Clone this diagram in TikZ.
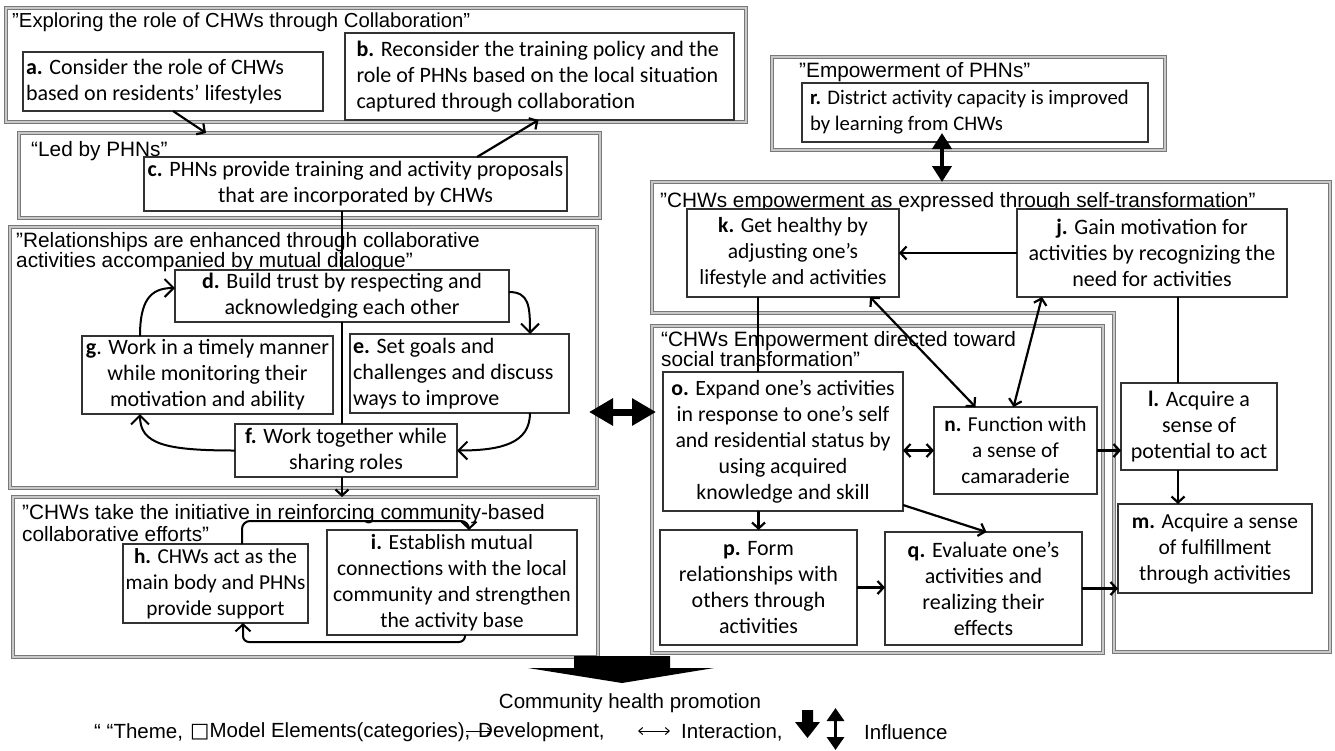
\documentclass[tikz,border=0pt]{standalone}
\usepackage{fontspec}
\setmainfont{Liberation Sans}
\newfontfamily\carlito{Carlito}
\newfontfamily\dejavu{DejaVu Sans}
\usetikzlibrary{arrows.meta,calc}
\definecolor{themegray}{RGB}{120,120,120}
\definecolor{themeinner}{RGB}{200,200,200}
\definecolor{boxgray}{RGB}{50,50,50}
\newcommand\elbox[8][22]{%
  \node[elem, font=\carlito\fontsize{#1}{26}\selectfont, #7, minimum width={(#5-#3)*1pt}, minimum height={(#6-#4)*1pt}] (#2) at ({(#3+#5)/2},{(#4+#6)/2}) {#8};}
\newcommand\thbox[5]{%
  \node[theme, minimum width={(#4-#2)*1pt}, minimum height={(#5-#3)*1pt}] (#1) at ({(#2+#4)/2},{(#3+#5)/2}) {};}
\begin{document}
\begin{tikzpicture}[x=1pt,y=-1pt,
  theme/.style={draw=themegray, double=themeinner, double distance=1.2pt, line width=1pt, inner sep=0pt, outer sep=0pt},
  elem/.style={draw=boxgray, line width=1.1pt, fill=white, inner sep=1pt, outer sep=0pt},
  ttl/.style={anchor=north west, inner sep=0pt, align=left, font=\fontsize{20.8}{18}\selectfont},
  legend/.style={anchor=west, inner sep=0pt, font=\fontsize{20.5}{24}\selectfont},
  plain/.style={line width=2.2pt},
  arr/.style={line width=2.2pt, -{Straight Barb[length=6pt,width=13pt]}},
  darr/.style={line width=2.2pt, {Straight Barb[length=6pt,width=13pt]}-{Straight Barb[length=6pt,width=13pt]}},
  looparr/.style={line width=2pt, -{Straight Barb[length=9pt,width=18pt]}},
  smallloop/.style={line width=2pt, -{Straight Barb[length=7pt,width=15pt]}},
  bigdarr/.style={line width=4.5pt, {Triangle[length=16pt,width=19pt]}-{Triangle[length=16pt,width=19pt]}},
  hugedarr/.style={line width=7pt, {Triangle[length=24pt,width=26pt]}-{Triangle[length=24pt,width=26pt]}}
]
\useasboundingbox (0,0) rectangle (1335,750);
\fill[white] (0,0) rectangle (1335,750);

% ---------- theme boxes ----------
\thbox{T1}{6}{8}{746}{122}
\thbox{T2}{19}{133}{600}{218}
\thbox{T3}{10}{227}{597}{488}
\thbox{T4}{13}{497}{598}{657}
\thbox{T5}{772}{57}{1165}{150}
\draw[theme] (652,182) -- (1330,182) -- (1330,652) -- (1114,652) -- (1114,313) -- (652,313) -- cycle;
\coordinate (T6top) at (942,182);
\thbox{T7}{652}{326}{1103}{653}

% ---------- theme titles ----------
\node[ttl, font=\fontsize{20.3}{18}\selectfont] (t1) at (12,13) {”Exploring the role of CHWs through Collaboration”};
\node[ttl] (t2) at (31,141) {“Led by PHNs”};
\node[ttl, font=\fontsize{20.8}{18.3}\selectfont] (t3) at (16,232) {”Relationships are enhanced through collaborative\\activities accompanied by mutual dialogue”};
\node[ttl, font=\fontsize{20.8}{22.5}\selectfont] (t4) at (22,504) {”CHWs take the initiative in reinforcing community-based\\collaborative efforts”};
\node[ttl] (t5) at (799,62) {”Empowerment of PHNs”};
\node[ttl] (t6) at (660,192) {”CHWs empowerment as expressed through self-transformation”};
\node[ttl, font=\fontsize{20.8}{16.7}\selectfont] (t7) at (661,331) {“CHWs Empowerment directed toward\\social transformation”};

% ---------- element boxes ----------
\elbox{a}{23}{52}{323}{111}{align=flush left, text width=294pt}{\textbf{a.} Consider the role of CHWs\\based on residents’ lifestyles}
\elbox{b}{345}{33}{734}{120}{align=flush left, text width=366pt}{\mbox{\textbf{b.} Reconsider the training policy and the}\\\mbox{role of PHNs based on the local situation}\\\mbox{captured through collaboration}}
\elbox{c}{144}{157}{567}{211}{align=center}{\textbf{c.} PHNs provide training and activity proposals\\that are incorporated by CHWs}
\elbox{d}{175}{270}{509}{322}{align=center}{\textbf{d.} Build trust by respecting and\\acknowledging each other}
\elbox{g}{82}{336}{333}{414}{align=center}{\textbf{g}. Work in a timely manner\\while monitoring their\\motivation and ability}
\elbox{e}{350}{334}{569}{413}{align=flush left, text width=213pt}{\textbf{e.} Set goals and\\\mbox{challenges and discuss}\\ways to improve}
\elbox{f}{235}{424}{457}{477}{align=center}{\textbf{f.} Work together while\\sharing roles}
\elbox[21.3]{h}{123}{544}{308}{623}{align=center}{\textbf{h.} CHWs act as the\\main body and PHNs\\provide support}
\elbox[21.6]{i}{327}{530}{577}{635}{align=center}{\textbf{i.} Establish mutual\\connections with the local\\community and strengthen\\the activity base}
\elbox[20.7]{r}{802}{83}{1148}{142}{align=flush left, text width=330pt}{\mbox{\textbf{r.} District activity capacity is improved}\\by learning from CHWs}
\elbox[21.5]{k}{687}{209}{899}{297}{align=center}{\textbf{k.} Get healthy by\\adjusting one’s\\lifestyle and activities}
\elbox{j}{1017}{209}{1287}{297}{align=center}{\textbf{j.} Gain motivation for\\activities by recognizing the\\need for activities}
\elbox[21.8]{o}{663}{372}{903}{511}{align=center}{\textbf{o.} Expand one’s activities\\in response to one’s self\\and residential status by\\using acquired\\knowledge and skill}
\elbox[21.3]{n}{934}{407}{1097}{494}{align=center}{\textbf{n.} Function with\\a sense of\\camaraderie}
\elbox{p}{660}{530}{857}{645}{align=center}{\textbf{p.} Form\\relationships with\\others through\\activities}
\elbox{q}{885}{532}{1082}{645}{align=center}{\textbf{q.} Evaluate one’s\\activities and\\realizing their\\effects}
\elbox{l}{1121}{383}{1277}{470}{align=center}{\textbf{l.} Acquire a\\sense of\\potential to act}
\elbox[21.5]{m}{1118}{504}{1312}{593}{align=center}{\textbf{m.} Acquire a sense\\of fulfillment\\through activities}

% ---------- connectors, left part ----------
\draw[arr] (a.south) -- ([xshift=-103.5pt]T2.north);
\draw[arr] ([xshift=121.5pt]c.north) -- ([xshift=-1pt]b.south);
\draw[plain] (d.north |- c.south) -- (d.north);
\draw[plain] (d.south) -- (d.south |- f.north);
\draw[arr] (d.south |- f.south) -- (d.south |- T4.north);

\draw[looparr] ([yshift=4pt]d.east) .. controls +(20,0) and +(0,-28) .. ([xshift=70.5pt]e.north);
\draw[looparr] ([xshift=70.5pt]e.south) .. controls +(0,30) and +(45,0) .. (f.east);
\draw[looparr] (f.west) .. controls +(-70,0) and +(0,30) .. ([xshift=-67.5pt]g.south);
\draw[looparr] ([xshift=-67.5pt]g.north) .. controls +(0,-35) and +(-25,0) .. ([yshift=8pt]d.west);

\draw[smallloop, rounded corners=8pt] ([xshift=26.5pt]h.north) |- ([xshift=17pt,yshift=9pt]i.north) -- ([xshift=17pt]i.north);
\draw[smallloop, rounded corners=6pt] ([xshift=13pt]i.south) -- ++(0,7) -| ([xshift=27.5pt]h.south);

% ---------- connectors, right part ----------
\draw[bigdarr] ([xshift=-33pt,yshift=9pt]r.south) -- (T6top);
\draw[arr] (j.west) -- (k.east);
\draw[plain] ([xshift=-35pt]k.south) -- ([xshift=-35pt]k.south |- o.north);
\draw[arr] (p.north |- o.south) -- (p.north);
\draw[darr] ([xshift=77pt]k.south) -- ([xshift=-40pt]n.north);
\draw[darr] ([xshift=-110pt]j.south) -- ([xshift=-2pt]n.north);
\draw[darr] (n.west) -- (n.west -| o.east);
\draw[arr] ([yshift=6pt]o.south east) -- ([xshift=3pt]q.north);
\draw[arr] (p.east) -- (p.east -| q.west);
\draw[arr] (n.east) -- (n.east -| l.west);
\draw[arr] (q.east) -- (q.east -| m.west);
\draw[plain] ([xshift=26pt]j.south) -- ([xshift=26pt]j.south |- l.north);
\draw[arr] ([xshift=-21pt]l.south) -- ([xshift=-21pt]l.south |- m.north);

\draw[hugedarr] ([xshift=-8pt,yshift=-54.5pt]T3.east) -- ([xshift=4pt,yshift=77.5pt]T7.west);

% ---------- output arrow ----------
\fill[black] (574,656) -- (670,656) -- (670,668) -- (714,668) -- (622,683) -- (528,668) -- (574,668) -- cycle;
\node[inner sep=0pt, font=\fontsize{20.5}{24}\selectfont] (chp) at (630,703) {Community health promotion};

% ---------- legend ----------
\node[legend] (lg1) at (94,732) {“ “Theme,};
\node[legend] (lg2) at (190,732) {{\dejavu □}Model Elements(categories),};
\node[legend] (lg3) at (478,732) {Development,};
\draw[line width=1pt, -{Straight Barb[length=4pt,width=7pt]}] ([xshift=-12pt,yshift=1pt]lg3.west) -- ([xshift=14pt,yshift=1pt]lg3.west);
\coordinate (ia) at (638,731);
\coordinate (ib) at (670,731);
\draw[line width=1pt, {Straight Barb[length=4pt,width=7pt]}-{Straight Barb[length=4pt,width=7pt]}] (ia) -- (ib);
\node[legend] (lg4) at (681,732) {Interaction,};
\fill[black] (802,710) -- (813,710) -- (813,722) -- (820,722) -- (807.5,738) -- (795,722) -- (802,722) -- cycle;
\coordinate (va) at (835.5,708);
\coordinate (vb) at (835.5,750);
\draw[line width=3.5pt, {Triangle[length=13pt,width=17pt]}-{Triangle[length=13pt,width=17pt]}] (va) -- (vb);
\node[legend] (lg5) at (864,732) {Influence};
\end{tikzpicture}
\end{document}
